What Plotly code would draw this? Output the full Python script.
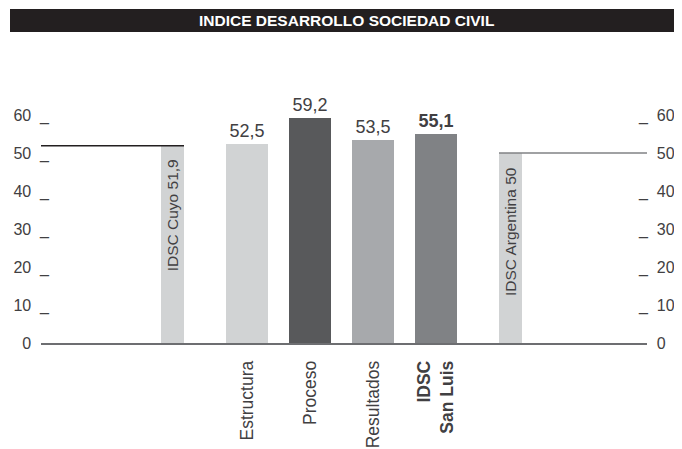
import plotly.graph_objects as go

# data
categorias = ["Estructura", "Proceso", "Resultados", "IDSC San Luis"]
valores = [52.5, 59.2, 53.5, 55.1]
etiquetas_valor = ["52,5", "59,2", "53,5", "<b>55,1</b>"]
etiquetas_cat = ["Estructura", "Proceso", "Resultados", "<b>IDSC<br>San Luis</b>"]
colores = ["#d1d3d4", "#58595b", "#a7a9ac", "#808285"]

referencias = ["IDSC Cuyo 51,9", "IDSC Argentina 50"]
valores_ref = [51.9, 50.0]

ticks_y = [0, 10, 20, 30, 40, 50, 60]

# page body has an 8px margin, so the figure is laid out 8px in
OFS = 8
W, H = 682 - 2 * OFS, 449 - OFS
L, T = 41 - OFS, 115 - OFS
R = W - (647 - OFS)
B = H - (343 - OFS)
paso = 63.0                      # px between main bars
x0_px = 247.0 - OFS              # px centre of first bar
xmin = (L - x0_px) / paso
xmax = (W - R - x0_px) / paso
ancho = 42 / paso
ancho_ref = 23 / paso
off = 74.5 / paso
x_main = list(range(len(valores)))
x_ref = [x_main[0] - off, x_main[-1] + off]

txt = "#414042"
inv = "<span style='color:rgba(0,0,0,0)'>_</span>"
nb = "\u00a0"

def lab_izq(v):
    if v == 0:
        return f"{v}{nb}{nb}{inv}"
    return f"{v}{nb}{nb}_"

def lab_der(v):
    if v in (0, 50):
        return f"{inv}{nb}{nb}{v}"
    return f"_{nb}{nb}{v}"

fig = go.Figure()

fig.add_trace(go.Bar(
    x=x_main, y=valores, width=ancho, marker=dict(color=colores, line_width=0),
    text=etiquetas_valor, textposition="outside", constraintext="none",
    textfont=dict(size=18, color=txt), cliponaxis=False, hoverinfo="skip"))

fig.add_trace(go.Bar(
    x=x_ref, y=valores_ref, width=ancho_ref,
    marker=dict(color="#d1d3d4", line_width=0), hoverinfo="skip"))

# reference lines
fig.add_trace(go.Scatter(
    x=[xmin, x_ref[0] + ancho_ref / 2], y=[valores_ref[0]] * 2, mode="lines",
    line=dict(color="#231f20", width=1.5), cliponaxis=False, hoverinfo="skip"))
fig.add_trace(go.Scatter(
    x=[x_ref[1] - ancho_ref / 2, xmax], y=[valores_ref[1]] * 2, mode="lines",
    line=dict(color="#808285", width=1.5), cliponaxis=False, hoverinfo="skip"))

# invisible trace for the right axis
fig.add_trace(go.Scatter(x=[xmin], y=[0], yaxis="y2", mode="markers",
                         marker=dict(opacity=0), hoverinfo="skip"))

for xr, vr, t in zip(x_ref, valores_ref, referencias):
    fig.add_annotation(x=xr, y=vr, text=t, textangle=-90, showarrow=False,
                       yanchor="top", xanchor="center", yshift=-12,
                       font=dict(size=15.5, color=txt))

# title band
pw = W - L - R
ph = H - T - B
def px_x(p):
    return (p - OFS - L) / pw
def px_y(p):
    return (H - B - (p - OFS)) / ph

fig.add_shape(type="rect", xref="paper", yref="paper",
              x0=px_x(10), x1=px_x(690), y0=px_y(32), y1=px_y(9),
              fillcolor="#231f20", line_width=0, layer="above")
fig.add_annotation(xref="paper", yref="paper", x=px_x(346), y=px_y(20.5),
                   text="<b>INDICE DESARROLLO SOCIEDAD CIVIL</b>", showarrow=False,
                   xanchor="center", yanchor="middle",
                   font=dict(family="Liberation Sans, Arial, sans-serif",
                             size=15.5, color="white"))

fig.update_layout(
    width=W, height=H, margin=dict(l=L, r=R, t=T, b=B, autoexpand=False),
    paper_bgcolor="white", plot_bgcolor="white", showlegend=False,
    bargap=0, barmode="overlay",
    font=dict(family="Liberation Sans, Arial, sans-serif", color=txt),
    xaxis=dict(range=[xmin, xmax], showgrid=False, zeroline=False, automargin=False,
               tickvals=x_main, ticktext=etiquetas_cat, tickangle=-90,
               tickfont=dict(size=17.5, color=txt), ticks="", ticklabelstandoff=9,
               showline=True, linecolor="#6d6e71", linewidth=1.5),
    yaxis=dict(range=[0, 60], showgrid=False, zeroline=False, showline=False,
               automargin=False,
               tickvals=ticks_y, ticktext=[lab_izq(v) for v in ticks_y],
               tickfont=dict(size=16, color=txt), ticks="", ticklabelstandoff=-9),
    yaxis2=dict(range=[0, 60], overlaying="y", side="right", showgrid=False,
                zeroline=False, showline=False, automargin=False,
                tickvals=ticks_y, ticktext=[lab_der(v) for v in ticks_y],
                tickfont=dict(size=16, color=txt), ticks="", ticklabelstandoff=-9),
)

fig.write_html("out.html")
